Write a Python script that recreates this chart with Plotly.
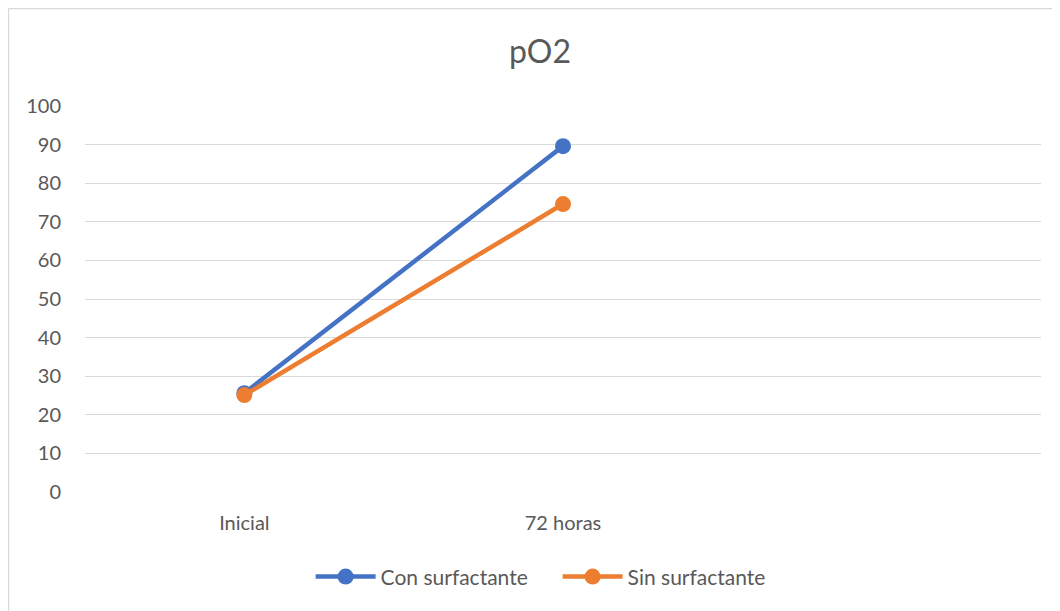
import plotly.graph_objects as go

categories = ["Inicial", "72 horas", " "]
con_surfactante = [25.6, 89.6]
sin_surfactante = [25.1, 74.6]
y_ticks = [0, 10, 20, 30, 40, 50, 60, 70, 80, 90, 100]

FONT = "Lato, Carlito, Calibri, sans-serif"
TXT = "#595959"
GRID = "#D9D9D9"

W, H = 1052, 603  # page body has an 8px margin

fig = go.Figure()
fig.add_trace(go.Scatter(
    x=categories[:2], y=con_surfactante, name="Con surfactante",
    mode="lines+markers",
    line=dict(color="#4472C4", width=4.5),
    marker=dict(color="#4472C4", size=16),
))
fig.add_trace(go.Scatter(
    x=categories[:2], y=sin_surfactante, name="Sin surfactante",
    mode="lines+markers",
    line=dict(color="#ED7D31", width=4.5),
    marker=dict(color="#ED7D31", size=16),
))

fig.update_layout(
    width=W, height=H,
    margin=dict(l=77, r=19, t=98, b=119),
    paper_bgcolor="white", plot_bgcolor="white",
    font=dict(family=FONT, color=TXT, size=20),
    title=dict(text="pO2", x=0.476, xref="paper", xanchor="center",
               y=1 - 44 / H, yref="container", yanchor="middle",
               font=dict(size=32, color=TXT, family=FONT)),
    showlegend=True,
    legend=dict(orientation="h", x=0.236, xanchor="left", xref="paper",
                y=-0.22, yanchor="middle", font=dict(size=21, color=TXT),
                traceorder="normal", itemwidth=60, entrywidth=172,
                entrywidthmode="pixels"),
    xaxis=dict(type="category", categoryorder="array", categoryarray=categories,
               range=[-0.5, 2.5], showgrid=False, zeroline=False, showline=False,
               ticks="", ticklabelstandoff=17, tickfont=dict(size=20, color=TXT)),
    yaxis=dict(range=[0, 100], tickvals=y_ticks, showgrid=True, gridcolor=GRID,
               gridwidth=1.3, zeroline=False, showline=False, ticks="",
               ticklabelstandoff=23, tickfont=dict(size=20, color=TXT)),
    shapes=[
        dict(type="line", xref="paper", yref="paper",
             x0=-0.0800, x1=-0.0800, y0=1.2525, y1=-0.35,
             line=dict(color=GRID, width=1.3)),
        dict(type="line", xref="paper", yref="paper",
             x0=-0.0800, x1=1.03, y0=1.2525, y1=1.2525,
             line=dict(color=GRID, width=1.3)),
    ],
)

fig.write_html("out.html")
